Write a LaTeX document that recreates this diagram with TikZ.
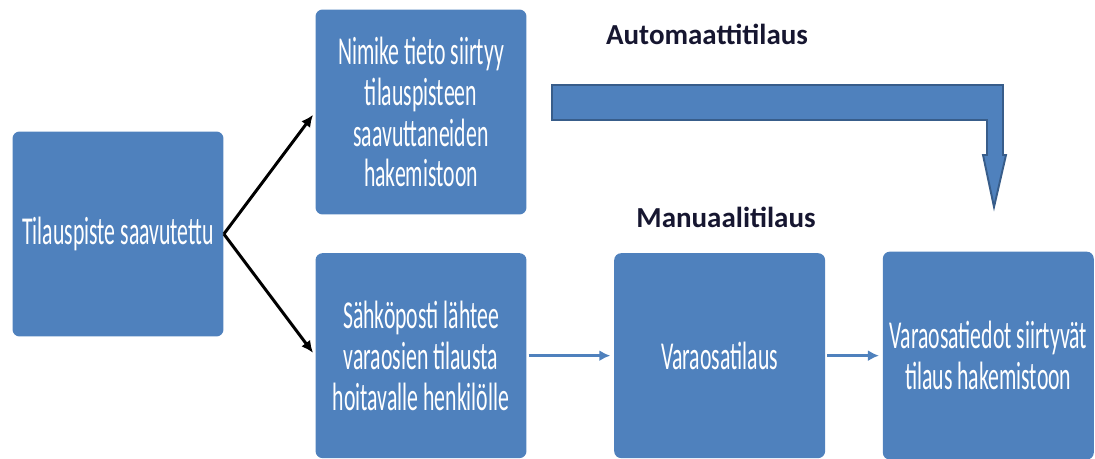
\documentclass[tikz,border=0pt]{standalone}
\usepackage{fontspec}
\setmainfont{Carlito}
\newfontfamily\boxfont[FakeStretch=0.55]{Carlito}
\usepackage{tikz}
\usetikzlibrary{arrows.meta,positioning}
\definecolor{officeblue}{RGB}{79,129,189}
\definecolor{edgeblue}{RGB}{56,93,138}
\definecolor{labelnavy}{RGB}{22,22,48}

\begin{document}
\begin{tikzpicture}[x=0.02cm,y=-0.02cm]
  \tikzstyle{obox}=[rectangle,fill=officeblue,draw=none,rounded corners=4pt,minimum width=4.22cm,minimum height=4.1cm,inner sep=2pt,align=center,text=white,font=\boxfont\fontsize{22.5}{23.3}\selectfont]
  \tikzstyle{olabel}=[anchor=base,text=labelnavy,font=\bfseries\fontsize{16.5}{18}\selectfont]
  \useasboundingbox (0,0) rectangle (1095,459);
  \node[obox] (reached) at (118,234) {Tilauspiste saavutettu};
  \node[obox] (itemdir) at (421,112) {Nimike tieto siirtyy\\tilauspisteen\\saavuttaneiden\\hakemistoon};
  \node[obox,below=0.76cm of itemdir] (email) {S\"ahk\"oposti l\"ahtee\\varaosien tilausta\\hoitavalle henkil\"olle};
  \node[obox,right=1.74cm of email] (sparepart) {Varaosatilaus};
  \node[obox,right=1.14cm of sparepart,minimum height=4.16cm] (orderdir) {Varaosatiedot siirtyv\"at\\tilaus hakemistoon};
  \node[olabel] (auto) at (707,45) {Automaattitilaus};
  \node[olabel] (manual) at (726,228) {Manuaalitilaus};
  % automatic route
  \coordinate (autotip) at (994,207);
  \draw[fill=officeblue,draw=edgeblue,line width=1.1pt,line join=miter]
    (552,85) -- (1003,85) -- (1003,155) -- (1006,155) -- (autotip)
    -- (983,155) -- (987,155) -- (987,120) -- (552,120) -- cycle;
  \draw[line width=1.7pt,-{Latex[length=2.4mm,width=2.2mm]},shorten >=2pt] (reached.east) -- (itemdir.west);
  \draw[line width=1.7pt,-{Latex[length=2.4mm,width=2.2mm]},shorten >=2pt] (reached.east) -- (email.west);
  \draw[officeblue,line width=1.7pt,-{Latex[length=2.2mm,width=2.2mm]},shorten <=1pt,shorten >=2pt] (email) -- (sparepart);
  \draw[officeblue,line width=1.7pt,-{Latex[length=2.2mm,width=2.2mm]},shorten <=1pt,shorten >=2pt] (sparepart) -- (orderdir);
\end{tikzpicture}
\end{document}
